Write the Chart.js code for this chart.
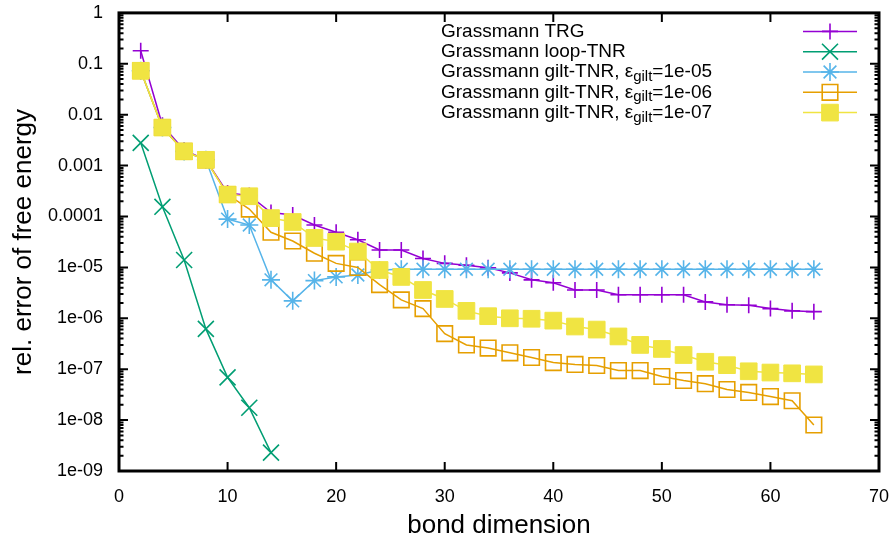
<!DOCTYPE html>
<html>
<head>
<meta charset="utf-8">
<script src="https://cdn.jsdelivr.net/npm/chart.js@4"></script>
<style>
  html, body { margin: 0; padding: 0; background: #fff; }
  #wrap { width: 895px; height: 545px; }
</style>
</head>
<body>
<div id="wrap"><canvas id="freeEnergyChart" width="895" height="545"></canvas></div>
<script>
// bond dimensions D = 2, 4, ..., 64
const bondDims = [2, 4, 6, 8, 10, 12, 14, 16, 18, 20, 22, 24, 26, 28, 30, 32,
                  34, 36, 38, 40, 42, 44, 46, 48, 50, 52, 54, 56, 58, 60, 62, 64];
const loopDims = [2, 4, 6, 8, 10, 12, 14];

const trgErr = [0.18, 0.0062, 0.002, 0.0013, 2.9e-4, 2.6e-4, 1.2e-4, 1.07e-4,
                6.8e-5, 4.9e-5, 3.5e-5, 2.2e-5, 2.2e-5, 1.5e-5, 1.2e-5, 1.1e-5,
                9.8e-6, 7.8e-6, 5.7e-6, 5.0e-6, 3.6e-6, 3.6e-6, 2.9e-6, 2.9e-6,
                2.9e-6, 2.9e-6, 2.1e-6, 1.85e-6, 1.8e-6, 1.55e-6, 1.4e-6, 1.35e-6];
const loopErr = [0.0028, 1.55e-4, 1.4e-5, 6.2e-7, 6.9e-8, 1.75e-8, 2.3e-9];
const gilt5Err = [0.073, 0.0056, 0.0019, 0.0013, 8.9e-5, 6.8e-5, 5.7e-6, 2.2e-6,
                  5.5e-6, 6.5e-6, 7.1e-6, 8.9e-6, 9.2e-6, 9.2e-6, 9.2e-6, 9.2e-6,
                  9.2e-6, 9.2e-6, 9.2e-6, 9.2e-6, 9.2e-6, 9.2e-6, 9.2e-6, 9.2e-6,
                  9.2e-6, 9.2e-6, 9.2e-6, 9.2e-6, 9.2e-6, 9.2e-6, 9.2e-6, 9.2e-6];
const gilt6Err = [0.073, 0.0056, 0.0019, 0.0013, 2.7e-4, 1.4e-4, 4.9e-5, 3.3e-5,
                  1.9e-5, 1.2e-5, 1.0e-5, 4.6e-6, 2.3e-6, 1.55e-6, 5.0e-7, 3.0e-7,
                  2.6e-7, 2.1e-7, 1.7e-7, 1.35e-7, 1.24e-7, 1.18e-7, 9.4e-8, 9.4e-8,
                  7.2e-8, 6.0e-8, 5.2e-8, 4.0e-8, 3.5e-8, 2.9e-8, 2.4e-8, 8.0e-9];
const gilt7Err = [0.073, 0.0056, 0.0019, 0.0013, 2.7e-4, 2.5e-4, 9.3e-5, 7.8e-5,
                  3.8e-5, 3.2e-5, 2.05e-5, 8.9e-6, 6.5e-6, 3.6e-6, 2.4e-6, 1.4e-6,
                  1.1e-6, 1.0e-6, 9.8e-7, 9.0e-7, 6.9e-7, 6.0e-7, 4.4e-7, 3.0e-7,
                  2.5e-7, 1.9e-7, 1.4e-7, 1.2e-7, 9.1e-8, 8.6e-8, 8.3e-8, 7.9e-8];

const seriesLabels = [
  'Grassmann TRG',
  'Grassmann loop-TNR',
  'Grassmann gilt-TNR, ε_{gilt}=1e-05',
  'Grassmann gilt-TNR, ε_{gilt}=1e-06',
  'Grassmann gilt-TNR, ε_{gilt}=1e-07'
];

const yTickValues = [1e-9, 1e-8, 1e-7, 1e-6, 1e-5, 1e-4, 1e-3, 1e-2, 1e-1, 1];
const yTickLabels = ['1e-09', '1e-08', '1e-07', '1e-06', '1e-05', '0.0001', '0.001', '0.01', '0.1', '1'];
const xTickValues = [0, 10, 20, 30, 40, 50, 60, 70];

const FONT = '"Liberation Sans", Arial, Helvetica, sans-serif';

const pts = (xs, ys) => xs.map((x, i) => ({ x: x, y: ys[i] }));

function series(label, xs, ys, color, style, radius, fill, order) {
  return {
    label: label,
    data: pts(xs, ys),
    borderColor: color,
    borderWidth: 1.5,
    pointStyle: style,
    pointRadius: radius,
    pointBorderWidth: style === 'rect' && fill ? 1 : 1.6,
    pointBorderColor: color,
    pointBackgroundColor: fill ? color : 'rgba(0,0,0,0)',
    pointHoverRadius: radius,
    tension: 0,
    order: order
  };
}

// small marker routine for the key, mirrors the chart's point styles
function drawMarker(ctx, ds, x, y) {
  const r = ds.pointRadius;
  ctx.lineWidth = ds.pointBorderWidth;
  ctx.strokeStyle = ds.pointBorderColor;
  ctx.fillStyle = ds.pointBackgroundColor;
  ctx.beginPath();
  if (ds.pointStyle === 'rect') {
    const s = Math.SQRT1_2 * r;
    ctx.rect(x - s, y - s, 2 * s, 2 * s);
    ctx.fill();
    ctx.stroke();
    return;
  }
  const d = Math.SQRT1_2 * r;
  if (ds.pointStyle !== 'crossRot') {
    ctx.moveTo(x - r, y); ctx.lineTo(x + r, y);
    ctx.moveTo(x, y - r); ctx.lineTo(x, y + r);
  }
  if (ds.pointStyle !== 'cross') {
    ctx.moveTo(x - d, y - d); ctx.lineTo(x + d, y + d);
    ctx.moveTo(x - d, y + d); ctx.lineTo(x + d, y - d);
  }
  ctx.stroke();
}

// gnuplot-like frame with inward ticks on all four sides
const framePlugin = {
  id: 'frame',
  afterDatasetsDraw(chart) {
    const { ctx, chartArea: a, scales } = chart;
    const xs = scales.x, ys = scales.y;
    ctx.save();
    ctx.strokeStyle = '#000';
    ctx.lineWidth = 2;
    ctx.beginPath();
    xTickValues.forEach(v => {
      const px = xs.getPixelForValue(v);
      ctx.moveTo(px, a.bottom); ctx.lineTo(px, a.bottom - 9);
      ctx.moveTo(px, a.top); ctx.lineTo(px, a.top + 9);
    });
    yTickValues.forEach((v, i) => {
      const py = ys.getPixelForValue(v);
      ctx.moveTo(a.left, py); ctx.lineTo(a.left + 9, py);
      ctx.moveTo(a.right, py); ctx.lineTo(a.right - 9, py);
      if (i < yTickValues.length - 1) {
        for (let m = 2; m <= 9; m++) {
          const pm = ys.getPixelForValue(v * m);
          ctx.moveTo(a.left, pm); ctx.lineTo(a.left + 4.5, pm);
          ctx.moveTo(a.right, pm); ctx.lineTo(a.right - 4.5, pm);
        }
      }
    });
    ctx.stroke();
    ctx.lineWidth = 3;
    ctx.strokeRect(a.left, a.top, a.right - a.left, a.bottom - a.top);
    ctx.restore();
  }
};

// key in the upper right, text with gnuplot-style subscripts
const keyPlugin = {
  id: 'key',
  afterDraw(chart) {
    const { ctx, chartArea: a } = chart;
    const textX = a.left + 322;
    const lineL = a.right - 76, lineR = a.right - 22, markX = a.right - 49;
    chart.data.datasets.forEach((ds, i) => {
      const y = a.top + 18.5 + i * 20.3;
      ctx.save();
      ctx.fillStyle = '#000';
      ctx.textBaseline = 'middle';
      ctx.textAlign = 'left';
      let x = textX;
      ds.label.split(/_\{([^}]*)\}/).forEach((part, k) => {
        if (k % 2) {
          ctx.font = '15px ' + FONT;
          ctx.fillText(part, x, y + 5);
        } else {
          ctx.font = '19px ' + FONT;
          ctx.fillText(part, x, y);
        }
        x += ctx.measureText(part).width;
      });
      ctx.strokeStyle = ds.borderColor;
      ctx.lineWidth = ds.borderWidth;
      ctx.beginPath();
      ctx.moveTo(lineL, y); ctx.lineTo(lineR, y);
      ctx.stroke();
      drawMarker(ctx, ds, markX, y);
      ctx.restore();
    });
  }
};

// keep the plot box fixed: no extra room for labels hanging over the ends
function noLabelPadding(s) {
  s.paddingTop = 0;
  s.paddingBottom = 0;
  s.paddingLeft = 0;
  s.paddingRight = 0;
}

const ctx = document.getElementById('freeEnergyChart').getContext('2d');
const chart = new Chart(ctx, {
  type: 'line',
  data: {
    datasets: [
      series(seriesLabels[0], bondDims, trgErr, '#9400d3', 'cross', 8, false, 4),
      series(seriesLabels[1], loopDims, loopErr, '#009e73', 'crossRot', 11.3, false, 3),
      series(seriesLabels[2], bondDims, gilt5Err, '#56b4e9', 'star', 9, false, 2),
      series(seriesLabels[3], bondDims, gilt6Err, '#e69f00', 'rect', 11, false, 1),
      series(seriesLabels[4], bondDims, gilt7Err, '#f0e442', 'rect', 11.8, true, 0)
    ]
  },
  options: {
    responsive: false,
    animation: false,
    devicePixelRatio: 1,
    layout: { padding: { top: 12, right: 16, left: 0, bottom: 0 } },
    plugins: {
      legend: { display: false },
      tooltip: { enabled: false }
    },
    scales: {
      x: {
        type: 'linear',
        min: 0,
        max: 70,
        grid: { display: false, drawTicks: false },
        border: { display: false },
        ticks: {
          stepSize: 10,
          padding: 15,
          color: '#000',
          font: { family: FONT, size: 18 }
        },
        afterFit: s => { s.height = 74; noLabelPadding(s); },
        title: {
          display: true,
          text: 'bond dimension',
          color: '#000',
          font: { family: FONT, size: 26 },
          padding: { top: 0, bottom: 4 }
        }
      },
      y: {
        type: 'logarithmic',
        min: 1e-9,
        max: 1,
        grid: { display: false, drawTicks: false },
        border: { display: false },
        afterBuildTicks: s => { s.ticks = yTickValues.map(v => ({ value: v })); },
        ticks: {
          padding: 16,
          color: '#000',
          autoSkip: false,
          font: { family: FONT, size: 18 },
          callback: (v, i) => yTickLabels[i]
        },
        afterFit: s => { s.width = 119; noLabelPadding(s); },
        title: {
          display: true,
          text: 'rel. error of free energy',
          color: '#000',
          font: { family: FONT, size: 26 },
          padding: { top: 8, bottom: 0 }
        }
      }
    }
  },
  plugins: [framePlugin, keyPlugin]
});
</script>
</body>
</html>
